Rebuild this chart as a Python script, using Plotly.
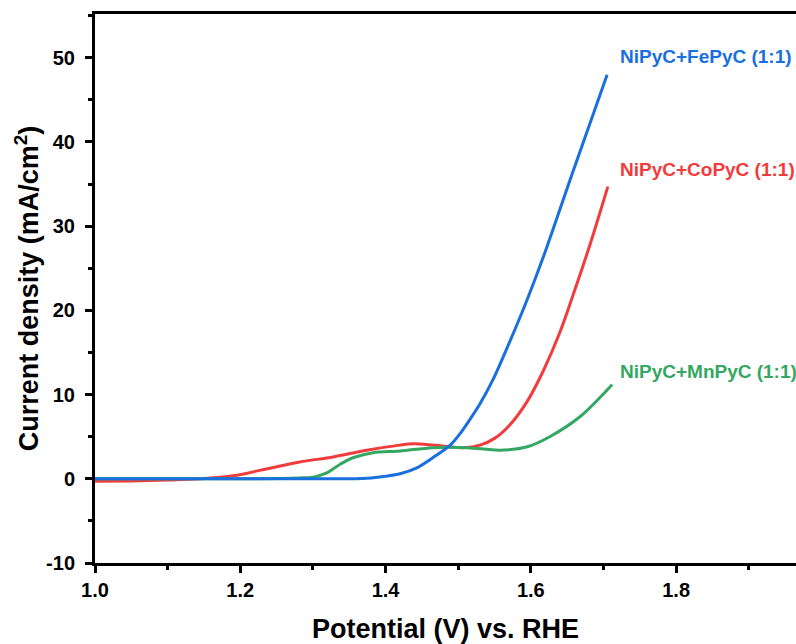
import plotly.graph_objects as go

fe_x = [1.00, 1.10, 1.20, 1.30, 1.35, 1.38, 1.40, 1.42, 1.443, 1.465, 1.489, 1.502, 1.515, 1.53, 1.548, 1.571, 1.595, 1.617, 1.658, 1.705]
fe_y = [0.0, 0.0, 0.0, 0.0, 0.0, 0.1, 0.3, 0.6, 1.3, 2.5, 4.0, 5.3, 6.9, 8.9, 11.8, 16.3, 21.3, 26.3, 36.5, 48.0]

co_x = [1.00, 1.05, 1.10, 1.145, 1.19, 1.237, 1.282, 1.328, 1.374, 1.42, 1.438, 1.465, 1.489, 1.507, 1.53, 1.55, 1.571, 1.595, 1.617, 1.640, 1.658, 1.681, 1.706]
co_y = [-0.3, -0.25, -0.15, 0.0, 0.35, 1.2, 2.0, 2.6, 3.4, 4.0, 4.15, 4.0, 3.8, 3.7, 4.0, 4.8, 6.4, 9.2, 12.8, 17.4, 21.8, 27.7, 34.7]

mn_x = [1.00, 1.10, 1.20, 1.28, 1.30, 1.319, 1.337, 1.355, 1.383, 1.42, 1.465, 1.512, 1.557, 1.595, 1.626, 1.668, 1.712]
mn_y = [0.0, 0.0, 0.0, 0.1, 0.2, 0.7, 1.7, 2.5, 3.1, 3.3, 3.7, 3.7, 3.4, 3.8, 5.0, 7.4, 11.2]

labels = ["NiPyC+FePyC (1:1)", "NiPyC+CoPyC (1:1)", "NiPyC+MnPyC (1:1)"]
label_y = [50.1, 36.7, 12.7]
colors = ["#1a6fdf", "#f03c3c", "#34a862"]

y_ticks = [-10, 0, 10, 20, 30, 40, 50]
y_ticktext = ["-10", "0", "10", "20", "30", "40", "50"]
x_ticks = [1.0, 1.2, 1.4, 1.6, 1.8]
x_ticktext = ["1.0", "1.2", "1.4", "1.6", "1.8"]

font_fam = "Liberation Sans, Arial"

fig = go.Figure()
series = [(co_x, co_y, 1), (mn_x, mn_y, 2), (fe_x, fe_y, 0)]
for xs, ys, i in series:
    fig.add_trace(go.Scatter(x=xs, y=ys, mode="lines", name=labels[i],
                             line=dict(color=colors[i], width=3, shape="spline", smoothing=0.9)))

for i in range(3):
    fig.add_annotation(x=1.72, y=label_y[i], xref="x", yref="y", text=labels[i],
                       showarrow=False, xanchor="left", yanchor="middle",
                       font=dict(family=font_fam, size=19, color=colors[i], weight="bold"))

fig.update_layout(
    width=796, height=644,
    margin=dict(l=95, r=0, t=14, b=81),
    plot_bgcolor="white", paper_bgcolor="white",
    showlegend=False,
    font=dict(family=font_fam, color="black"),
)
fig.update_xaxes(
    range=[1.0, 1.965], tickmode="array", tickvals=x_ticks, ticktext=x_ticktext,
    automargin=False,
    showgrid=False, zeroline=False,
    showline=True, linecolor="black", linewidth=3, mirror=True,
    ticks="outside", ticklen=7, tickwidth=2.5, tickcolor="black",
    ticklabelstandoff=0,
    minor=dict(tickmode="linear", tick0=1.0, dtick=0.1, ticks="outside", ticklen=4, tickwidth=2.5, tickcolor="black"),
    tickfont=dict(size=20, weight="bold", family=font_fam),
    title=dict(text="Potential (V) vs. RHE", font=dict(size=27, weight="bold", family=font_fam), standoff=26),
)
fig.update_yaxes(
    range=[-10, 55.2], tickmode="array", tickvals=y_ticks, ticktext=y_ticktext,
    automargin=False,
    showgrid=False, zeroline=False,
    showline=True, linecolor="black", linewidth=3, mirror=False,
    ticks="outside", ticklen=7, tickwidth=2.5, tickcolor="black",
    ticklabelstandoff=6,
    minor=dict(tickmode="linear", tick0=-10, dtick=5, ticks="outside", ticklen=4, tickwidth=2.5, tickcolor="black"),
    tickfont=dict(size=20, weight="bold", family=font_fam),
    title=dict(text="Current density (mA/cm<sup>2</sup>)", font=dict(size=27, weight="bold", family=font_fam), standoff=0),
)
fig.write_html("out.html", config={"displayModeBar": False},
               post_script="document.body.style.margin='0';document.body.style.overflow='hidden';")
